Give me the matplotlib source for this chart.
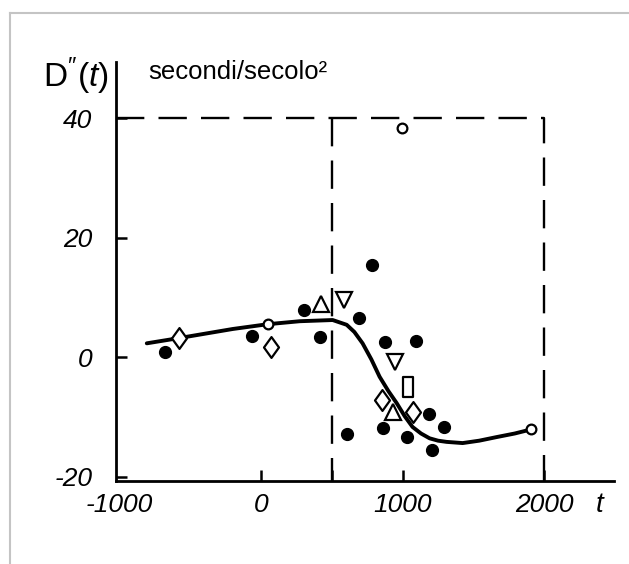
import matplotlib
matplotlib.use("Agg")
import matplotlib.pyplot as plt
from matplotlib.lines import Line2D
from matplotlib.path import Path

plt.rcParams['font.family'] = ['Liberation Sans', 'DejaVu Sans']
plt.rcParams['mathtext.fontset'] = 'custom'
plt.rcParams['mathtext.rm'] = 'Liberation Sans'
plt.rcParams['mathtext.it'] = 'Liberation Sans:italic'

# smooth fitted curve
curve_t = [-803, -570, -197, 49, 275, 507, 606, 660, 718, 780, 838, 900, 958,
           1015, 1070, 1130, 1190, 1250, 1310, 1423, 1540, 1662, 1790, 1908]
curve_d = [2.3, 3.2, 4.7, 5.5, 6.0, 6.2, 5.4, 4.2, 2.3, -0.4, -3.3, -5.7, -7.7,
           -9.9, -11.7, -12.8, -13.6, -14.0, -14.2, -14.4, -14.0, -13.4, -12.8, -12.1]

# observations
dots_t = [-676, -63, 303, 415, 782, 690, 873, 1092, 1183, 1289, 859, 1028, 1204, 606]
dots_d = [0.8, 3.5, 7.9, 3.3, 15.4, 6.5, 2.5, 2.7, -9.5, -11.7, -11.9, -13.4, -15.6, -12.9]
rings_t = [49, 1908, 993]
rings_d = [5.5, -12.1, 38.3]
diam_t = [-577, 70, 852, 1070]
diam_d = [3.2, 1.7, -7.2, -9.2]
up_t = [423, 930]
up_d = [8.9, -9.2]
down_t = [585, 944]
down_d = [9.5, -0.8]
rect_t = [1035]
rect_d = [-5.0]

xticks = [-1000, 0, 500, 1000, 2000]
xlabels = ['-1000', '0', '', '1000', '2000']
yticks = [-20, 0, 20, 40]
ylabels = ['-20', '0', '20', '40']

xmin, xmax = -1020, 2490
ymin, ymax = -20.75, 49.4
box_left, box_mid, box_right, box_top = xmin, 500, 2000, 40

def closed(verts):
    codes = [Path.MOVETO] + [Path.LINETO] * (len(verts) - 1) + [Path.CLOSEPOLY]
    return Path(verts + [verts[0]], codes)

diamond = closed([(0, 1), (0.72, 0), (0, -1), (-0.72, 0)])
box = closed([(-0.5, -1), (0.5, -1), (0.5, 1), (-0.5, 1)])

fig = plt.figure(figsize=(6.29, 5.64), dpi=100)
ax = fig.add_axes([116/629, (564-481)/564, (614-116)/629, (481-62)/564])
ax.set_xlim(xmin, xmax)
ax.set_ylim(ymin, ymax)

# dashed frame
dash = dict(color='black', lw=1.7, ls=(0, (12, 6)), zorder=1)
ax.plot([box_left, box_right, box_right], [box_top, box_top, ymin], **dash)
ax.plot([box_mid, box_mid], [box_top, ymin], **dash)

ax.plot(curve_t, curve_d, color='black', lw=2.8, zorder=2, solid_capstyle='round')

opn = dict(ls='none', mfc='white', mec='black', mew=1.6, zorder=3)
ax.plot(dots_t, dots_d, 'o', ms=8.5, color='black', zorder=3)
ax.plot(rings_t, rings_d, marker='o', ms=7, **opn)
ax.plot(diam_t, diam_d, marker=diamond, ms=15, **opn)
ax.plot(up_t, up_d, marker='^', ms=12, **opn)
ax.plot(down_t, down_d, marker='v', ms=12, **opn)
ax.plot(rect_t, rect_d, marker=box, ms=14, **opn)

for side in ['top', 'right']:
    ax.spines[side].set_visible(False)
for side in ['left', 'bottom']:
    ax.spines[side].set_linewidth(2.0)

ax.set_xticks(xticks)
ax.set_xticklabels(xlabels, fontsize=19, style='italic')
ax.set_yticks(yticks)
ax.set_yticklabels(ylabels, fontsize=19, style='italic')
ax.tick_params(axis='x', direction='in', length=8, width=1.8, pad=9)
ax.tick_params(axis='y', direction='in', length=8, width=1.8, pad=17)
ax.xaxis.get_major_ticks()[0].tick1line.set_visible(False)

ax.text(0.972, -0.057, 't', transform=ax.transAxes, fontsize=20, style='italic',
        ha='center', va='center')
ax.text(-0.08, 0.965, r"D$''\mathit{(t)}$", transform=ax.transAxes, fontsize=24,
        ha='center', va='center')
ax.text(0.065, 0.976, 'secondi/secolo²', transform=ax.transAxes, fontsize=18.5,
        ha='left', va='center')

# grey page frame
fig.add_artist(Line2D([10/629, 10/629], [0, 1 - 13/564], color='#c4c4c4', lw=1.5))
fig.add_artist(Line2D([10/629, 1], [1 - 13/564, 1 - 13/564], color='#c4c4c4', lw=1.5))

fig.savefig('out.png', dpi=100)
